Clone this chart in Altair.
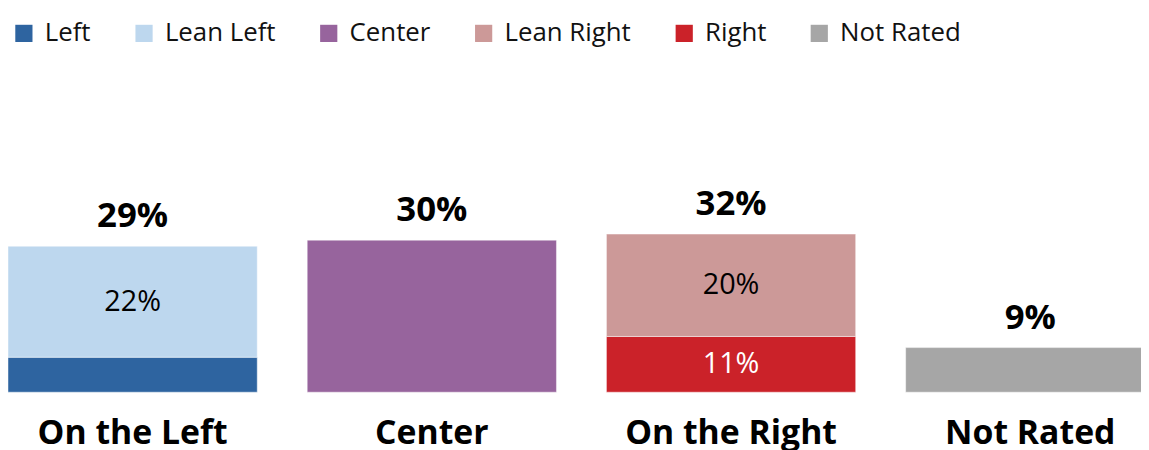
import altair as alt
import pandas as pd

# ---- data ----
categories = ["On the Left", "Center", "On the Right", "Not Rated"]
total_labels = ["29%", "30%", "32%", "9%"]

segments = ["Left", "Lean Left", "Center", "Lean Right", "Right", "Not Rated"]
segment_category = ["On the Left", "On the Left", "Center", "On the Right", "On the Right", "Not Rated"]
segment_values = [6.9, 21.9, 30.0, 20.2, 11.0, 8.8]
segment_stack = [0, 1, 0, 1, 0, 0]          # 0 = bottom of the stack
segment_labels = ["", "22%", "", "20%", "11%", ""]
segment_label_colors = ["#000000", "#000000", "#000000", "#000000", "#ffffff", "#000000"]
colors = ["#2E64A0", "#BDD7EE", "#97649D", "#CC9998", "#CB2229", "#A6A6A6"]

FONT = "Open Sans"

# ---- build tables ----
seg = pd.DataFrame({
    "cat": segment_category,
    "seg": segments,
    "value": segment_values,
    "stack": segment_stack,
    "label": segment_labels,
    "tcolor": segment_label_colors,
})
seg = seg.sort_values(["cat", "stack"])
seg["y1"] = seg.groupby("cat")["value"].cumsum()
seg["y0"] = seg["y1"] - seg["value"]
seg["mid"] = (seg["y0"] + seg["y1"]) / 2

tot = seg.groupby("cat", as_index=False)["value"].sum()
tot = tot.rename(columns={"value": "total"})
tot["label"] = tot["cat"].map(dict(zip(categories, total_labels)))
tot["base"] = 0.0

# the reference crops the last bar at the right edge: the band range runs past the view
x = alt.X("cat:N", sort=categories,
          scale=alt.Scale(paddingInner=0.167, paddingOuter=0, range=[0, 1155]), axis=None)
yscale = alt.Scale(domain=[-11.1, 75.5], nice=False, zero=False)

bars = alt.Chart(seg).mark_bar(stroke="#ffffff", strokeWidth=1, strokeOpacity=0.45).encode(
    x=x,
    y=alt.Y("y0:Q", scale=yscale, axis=None),
    y2="y1:Q",
    color=alt.Color(
        "seg:N",
        scale=alt.Scale(domain=segments, range=colors),
        legend=alt.Legend(
            orient="none", legendX=3, legendY=11, direction="horizontal",
            title=None, symbolType="square", symbolSize=300, symbolStrokeWidth=0,
            symbolOpacity=1, labelFont=FONT, labelFontSize=26, labelColor="#111111",
            labelOffset=8, columnPadding=40, padding=0,
        ),
    ),
)

inner = alt.Chart(seg[seg["label"] != ""]).mark_text(
    font=FONT, fontSize=29, baseline="middle", align="center"
).encode(
    x=x,
    y=alt.Y("mid:Q", scale=yscale),
    text="label:N",
    color=alt.Color("tcolor:N", scale=None),
)

totals = alt.Chart(tot).mark_text(
    font=FONT, fontSize=35, fontWeight="bold", baseline="alphabetic",
    align="center", dy=-19, color="#000000"
).encode(
    x=x,
    y=alt.Y("total:Q", scale=yscale),
    text="label:N",
)

cat_labels = alt.Chart(tot).mark_text(
    font=FONT, fontSize=34, fontWeight="bold", baseline="alphabetic",
    align="center", dy=52, color="#000000"
).encode(
    x=x,
    y=alt.Y("base:Q", scale=yscale),
    text="cat:N",
)

chart = alt.layer(bars, inner, totals, cat_labels).properties(
    width=1141, height=442, padding=0,
    autosize=alt.AutoSizeParams(type="none"),
    background="#ffffff",
).configure_view(stroke=None)

chart.save("out.html", embed_options={"renderer": "svg", "actions": False})
